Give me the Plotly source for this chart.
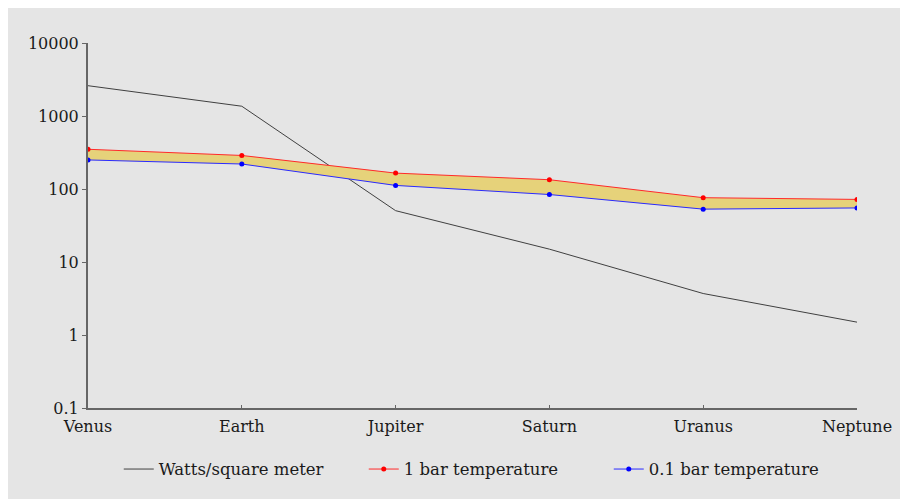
import plotly.graph_objects as go

planets = ["Venus", "Earth", "Jupiter", "Saturn", "Uranus", "Neptune"]
watts = [2601, 1361, 50.5, 15.0, 3.7, 1.5]
temp_1bar = [350, 288, 165, 134, 76, 72]
temp_01bar = [250, 220, 112, 84, 53, 55]
ytick_vals = [0.1, 1, 10, 100, 1000, 10000]
ytick_text = ["0.1", "1", "10", "100", "1000", "10000"]

FONT = "DejaVu Serif"
BG = "#e5e5e5"

fig = go.Figure()
fig.add_trace(go.Scatter(
    x=planets, y=watts, mode="lines", name="Watts/square meter",
    line=dict(color="#404040", width=1), legendrank=1))
fig.add_trace(go.Scatter(
    x=planets, y=temp_01bar, mode="lines+markers", name="0.1 bar temperature",
    line=dict(color="#2a2aff", width=1), marker=dict(color="#0000ff", size=5),
    legendrank=3))
# yellow band between the two temperature curves
fig.add_trace(go.Scatter(
    x=planets, y=temp_1bar, mode="lines", line=dict(width=0),
    fill="tonexty", fillcolor="#e6d27a", showlegend=False, hoverinfo="skip"))
fig.add_trace(go.Scatter(
    x=planets, y=temp_1bar, mode="lines+markers", name="1 bar temperature",
    line=dict(color="#ff2a2a", width=1), marker=dict(color="#ff0000", size=5),
    legendrank=2))

fig.update_layout(
    width=900, height=491,
    margin=dict(l=80, r=51, t=35, b=85),
    paper_bgcolor=BG,
    plot_bgcolor=BG,
    font=dict(family=FONT, size=16, color="#1a1a1a"),
    showlegend=True,
    legend=dict(orientation="h", x=0.04, xanchor="left", y=-0.168, yanchor="middle",
                bgcolor="rgba(0,0,0,0)", font=dict(size=16.5),
                entrywidth=200, entrywidthmode="pixels",
                traceorder="normal"),
    xaxis=dict(type="category", range=[0, 5], showgrid=False, zeroline=False,
               showline=True, linecolor="#666666", linewidth=2,
               ticks="inside", ticklen=3, tickcolor="#666666",
               ticklabelstandoff=3,
               tickfont=dict(family=FONT, size=16)),
    yaxis=dict(type="log", range=[-1, 4], showgrid=False, zeroline=False,
               showline=True, linecolor="#666666", linewidth=2,
               tickvals=ytick_vals, ticktext=ytick_text,
               ticks="outside", ticklen=4, tickcolor="#666666",
               tickfont=dict(family=FONT, size=16)),
)

fig.write_html("out.html")
